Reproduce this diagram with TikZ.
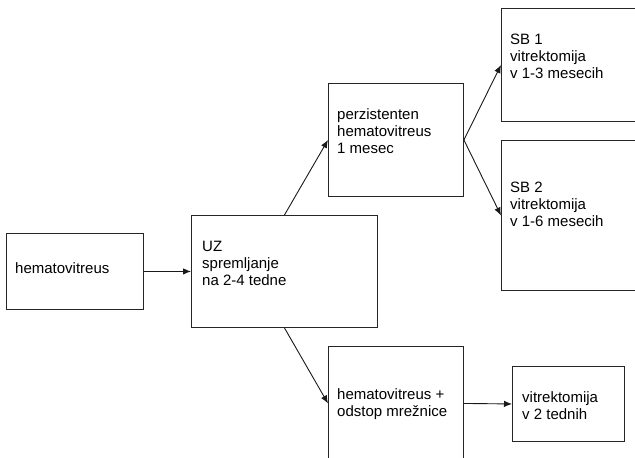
\documentclass[tikz,border=0pt]{standalone}
\usepackage{fontspec}
\setmainfont{Liberation Sans}
\usepackage{tikz}
\usetikzlibrary{arrows.meta,
                positioning}
\tikzset{stage-box/.style =
   {rectangle,
    draw=black!85,
    line width=0.9pt,
    anchor=north west,
    inner sep=0pt}}
\tikzset{stage-text/.style =
   {anchor=west,
    align=left,
    inner sep=0pt,
    font=\fontsize{15}{17}\selectfont}}
\tikzset{arrow/.style = {draw, black!90, line width=0.9pt,
                         -{Latex[length=8pt, width=6.5pt]}}}

\begin{document}
\begin{tikzpicture}[x=1pt, y=-1pt]

        \useasboundingbox (0,0) rectangle (635,458);
        \clip (0,0) rectangle (635,458);

        \node [stage-box,
               minimum width=137pt,
               minimum height=76pt] (hv) at (6,233) {};
        \node [stage-text] (hv-txt) at ([shift={(9,35)}]hv.north west)
              {hematovitreus};

        \node [stage-box,
               minimum width=186pt,
               minimum height=112pt] (uz) at (191,215) {};
        \node [stage-text] (uz-txt) at ([shift={(11,48)}]uz.north west)
              {UZ\\spremljanje\\na 2-4 tedne};

        \node [stage-box,
               minimum width=135pt,
               minimum height=113pt] (perz) at (328,83) {};
        \node [stage-text] (perz-txt) at ([shift={(9,48)}]perz.north west)
              {perzistenten\\hematovitreus\\1 mesec};

        \node [stage-box,
               minimum width=140pt,
               minimum height=113pt] (sb1) at (501,8) {};
        \node [stage-text] (sb1-txt) at ([shift={(9,48)}]sb1.north west)
              {SB 1\\vitrektomija\\v 1-3 mesecih};

        \node [stage-box,
               minimum width=140pt,
               minimum height=150pt] (sb2) at (501,140) {};
        \node [stage-text] (sb2-txt) at ([shift={(9,64)}]sb2.north west)
              {SB 2\\vitrektomija\\v 1-6 mesecih};

        \node [stage-box,
               minimum width=135pt,
               minimum height=114pt] (odst) at (328,346) {};
        \node [stage-text] (odst-txt) at ([shift={(9,58)}]odst.north west)
              {hematovitreus +\\odstop mrežnice};

        \node [stage-box,
               minimum width=112pt,
               minimum height=75pt] (vit2) at (512,366) {};
        \node [stage-text] (vit2-txt) at ([shift={(10,40)}]vit2.north west)
              {vitrektomija\\v 2 tednih};

        \draw [arrow] (hv.east) -- (uz.west);
        \draw [arrow] (uz.north) -- (perz.west);
        \draw [arrow] (uz.south) -- (odst.west);
        \draw [arrow] (perz.east) -- (sb1.west);
        \draw [arrow] (perz.east) -- (sb2.west);
        \draw [arrow] (odst.east) -- (vit2.west);

    \end{tikzpicture}
\end{document}
